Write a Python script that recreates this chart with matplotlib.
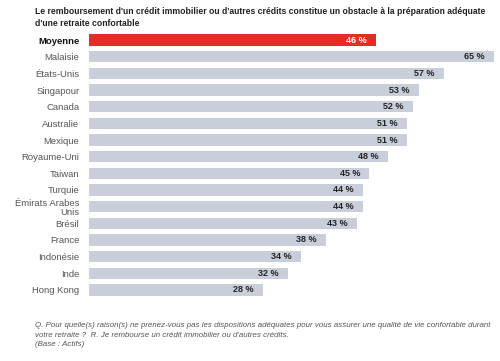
import matplotlib.pyplot as plt

plt.rcParams['font.family'] = ['Liberation Sans', 'DejaVu Sans']

countries = ["Moyenne", "Malaisie", "États-Unis", "Singapour", "Canada", "Australie",
             "Mexique", "Royaume-Uni", "Taiwan", "Turquie", "Émirats Arabes\nUnis",
             "Brésil", "France", "Indonésie", "Inde", "Hong Kong"]
values = [46, 65, 57, 53, 52, 51, 51, 48, 45, 44, 44, 43, 38, 34, 32, 28]

title = ("Le remboursement d'un crédit immobilier ou d'autres crédits constitue un obstacle à la préparation adéquate\n"
         "d'une retraite confortable")
footer = ("Q. Pour quelle(s) raison(s) ne prenez-vous pas les dispositions adéquates pour vous assurer une qualité de vie confortable durant\n"
          "votre retraite ?  R. Je rembourse un crédit immobilier ou d'autres crédits.\n"
          "(Base : Actifs)")

fig = plt.figure(figsize=(5, 3.61), dpi=100)
ax = fig.add_axes([0.178, 0.174, 0.81, 0.738])

ypos = list(range(len(countries)))
colors = ["#e52d27"] + ["#c9cedb"] * (len(countries) - 1)
ax.barh(ypos, values, height=0.68, color=colors)

for i, v in enumerate(values):
    ax.text(v - 1.5, i, f"{v} %", ha="right", va="center", fontsize=6.5, fontweight="bold",
            color="white" if i == 0 else "#222222")

ax.set_xlim(0, 65)
ax.set_ylim(len(countries) - 0.5, -0.5)
ax.set_yticks(ypos)
ax.set_yticklabels(countries, fontsize=6.8, color="#555555", linespacing=1.05)
ax.get_yticklabels()[0].set_fontweight("bold")
ax.get_yticklabels()[0].set_color("#111111")
ax.tick_params(axis="y", length=0, pad=7)
ax.set_xticks([])
for s in ax.spines.values():
    s.set_visible(False)

fig.text(0.07, 0.98, title, ha="left", va="top", fontsize=6.2, fontweight="bold",
         color="#222222", linespacing=1.4)
fig.text(0.07, 0.107, footer, ha="left", va="top", fontsize=5.7, style="italic",
         color="#555555", linespacing=1.45)

fig.savefig("out.png", dpi=100)
